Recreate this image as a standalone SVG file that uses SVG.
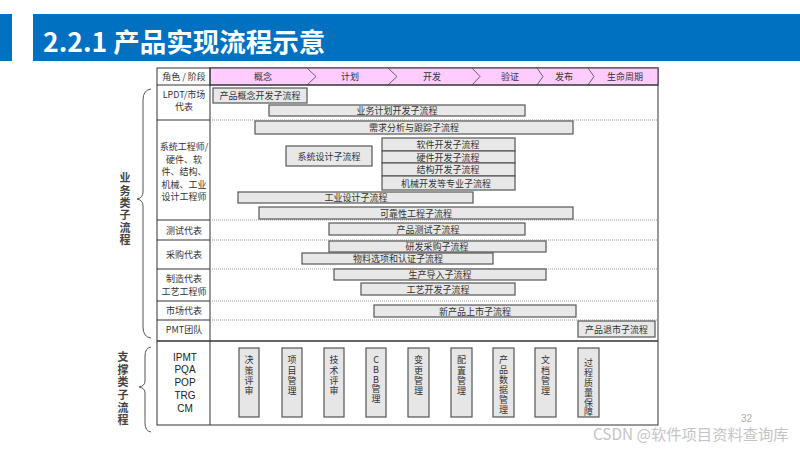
<svg xmlns="http://www.w3.org/2000/svg" width="800" height="450" viewBox="0 0 800 450">
<style>
.t{font-family:"Noto Sans CJK SC","Liberation Sans",sans-serif;font-size:9px;fill:#333;text-anchor:middle}
.v{font-family:"Noto Sans CJK SC","Liberation Sans",sans-serif;font-size:9px;fill:#333;writing-mode:vertical-rl;text-orientation:upright}
.bar{fill:#e8e8e8;stroke:#555;stroke-width:1.2}
.vb{fill:#e6e6e6;stroke:#555;stroke-width:1.2}
.dot{stroke:#999;stroke-width:1;stroke-dasharray:1 1}
.sol{stroke:#333;stroke-width:1}
.chev{fill:none;stroke:#555;stroke-width:0.9}
.brace{fill:none;stroke:#555;stroke-width:1}
.side{font-family:"Noto Sans CJK SC","Liberation Sans",sans-serif;font-size:11px;fill:#444;font-weight:bold;writing-mode:vertical-rl;text-orientation:upright}
.sup{font-family:"Liberation Sans","Noto Sans CJK SC",sans-serif;font-size:10px;fill:#222;text-anchor:middle}
</style>
<rect width="800" height="450" fill="#fff"/>
<g id="header">
<rect x="0" y="14" width="12" height="47" fill="#0070c0"/>
<rect x="33" y="14" width="767" height="47" fill="#0070c0"/>
<text x="43" y="52" font-family="'Noto Sans CJK SC','Liberation Sans',sans-serif" font-size="26.5" font-weight="bold" fill="#fff">2.2.1 产品实现流程示意</text>
</g>
<g id="table">
<rect x="157" y="68" width="501" height="357" fill="#fff" stroke="#333" stroke-width="1"/>
<rect x="210" y="68" width="448" height="17" fill="#ffccff" stroke="#333" stroke-width="1"/>
<path class="chev" d="M307 68 L316 76.5 L307 85 M388 68 L397 76.5 L388 85 M472 68 L480 76.5 L472 85 M537 68 L543 76.5 L537 85 M588 68 L594 76.5 L588 85"/>
<line class="sol" x1="157" y1="85" x2="658" y2="85"/>
<line class="sol" x1="210" y1="68" x2="210" y2="425"/>
<g>
<line class="sol" x1="157" y1="120" x2="210" y2="120"/>
<line class="sol" x1="157" y1="220" x2="210" y2="220"/>
<line class="sol" x1="157" y1="240" x2="210" y2="240"/>
<line class="sol" x1="157" y1="269" x2="210" y2="269"/>
<line class="sol" x1="157" y1="301" x2="210" y2="301"/>
<line class="sol" x1="157" y1="320" x2="210" y2="320"/>
<line class="dot" x1="210" y1="120" x2="658" y2="120"/>
<line class="dot" x1="210" y1="220" x2="658" y2="220"/>
<line class="dot" x1="210" y1="240" x2="658" y2="240"/>
<line class="dot" x1="210" y1="269" x2="658" y2="269"/>
<line class="dot" x1="210" y1="301" x2="658" y2="301"/>
<line class="dot" x1="210" y1="320" x2="658" y2="320"/>
<line x1="157" y1="341" x2="658" y2="341" stroke="#333" stroke-width="1.3"/>
</g>
<text class="t" x="263" y="80">概念</text>
<text class="t" x="350" y="80">计划</text>
<text class="t" x="432" y="80">开发</text>
<text class="t" x="510" y="80">验证</text>
<text class="t" x="564" y="80">发布</text>
<text class="t" x="625" y="80">生命周期</text>
<text class="t" x="184" y="80">角色 / 阶段</text>
<text class="t" x="184" y="97.5">LPDT/市场</text>
<text class="t" x="184" y="110">代表</text>
<text class="t" x="184" y="150">系统工程师/</text>
<text class="t" x="184" y="162.5">硬件、软</text>
<text class="t" x="184" y="175">件、结构、</text>
<text class="t" x="184" y="187.5">机械、工业</text>
<text class="t" x="184" y="200">设计工程师</text>
<text class="t" x="184" y="234">测试代表</text>
<text class="t" x="184" y="258">采购代表</text>
<text class="t" x="184" y="281.5">制造代表</text>
<text class="t" x="184" y="295">工艺工程师</text>
<text class="t" x="184" y="314">市场代表</text>
<text class="t" x="184" y="333">PMT团队</text>
<text class="sup" x="185" y="361">IPMT</text>
<text class="sup" x="185" y="373">PQA</text>
<text class="sup" x="185" y="386">POP</text>
<text class="sup" x="185" y="399">TRG</text>
<text class="sup" x="185" y="412">CM</text>
</g>
<g id="side-labels">
<path class="brace" d="M151 89 Q143 90 143 100 L143 192 Q143 198 137 199 Q143 200 143 206 L143 327 Q143 337 151 338"/>
<text class="side" x="125" y="172.5" letter-spacing="1.4">业务类子流程</text>
<path class="brace" d="M151 347 Q145 348 145 356 L145 381 Q145 386 139 387 Q145 388 145 393 L145 423 Q145 431 151 432"/>
<text class="side" x="123" y="351.5" letter-spacing="1.6">支撑类子流程</text>
</g>
<g id="n-concept"><rect class="bar" x="213" y="88" width="94" height="15"/><text class="t" x="260" y="99">产品概念开发子流程</text></g>
<g id="n-bizplan"><rect class="bar" x="269" y="105" width="256" height="11"/><text class="t" x="397" y="114">业务计划开发子流程</text></g>
<g id="n-req"><rect class="bar" x="255" y="121" width="318" height="13"/><text class="t" x="414" y="131">需求分析与跟踪子流程</text></g>
<g id="n-sysdesign"><rect class="bar" x="286" y="146" width="86" height="20"/><text class="t" x="329" y="159.5">系统设计子流程</text></g>
<g id="n-sw"><rect class="bar" x="382" y="138" width="133" height="13"/><text class="t" x="448" y="148">软件开发子流程</text></g>
<g id="n-hw"><rect class="bar" x="382" y="151" width="133" height="12"/><text class="t" x="448" y="160.5">硬件开发子流程</text></g>
<g id="n-struct"><rect class="bar" x="382" y="163" width="133" height="13"/><text class="t" x="448" y="173">结构开发子流程</text></g>
<g id="n-mech"><rect class="bar" x="382" y="176" width="133" height="14"/><text class="t" x="446" y="186.5">机械开发等专业子流程</text></g>
<g id="n-industrial"><rect class="bar" x="238" y="192" width="235" height="11"/><text class="t" x="356" y="201">工业设计子流程</text></g>
<g id="n-reliab"><rect class="bar" x="259" y="207" width="314" height="12"/><text class="t" x="416" y="216.5">可靠性工程子流程</text></g>
<g id="n-test"><rect class="bar" x="329" y="223" width="196" height="12"/><text class="t" x="428" y="232.5">产品测试子流程</text></g>
<g id="n-purchase"><rect class="bar" x="329" y="241" width="217" height="11"/><text class="t" x="437" y="250">研发采购子流程</text></g>
<g id="n-material"><rect class="bar" x="302" y="253" width="191" height="11"/><text class="t" x="398" y="262">物料选项和认证子流程</text></g>
<g id="n-production"><rect class="bar" x="334" y="269" width="212" height="11"/><text class="t" x="440" y="278">生产导入子流程</text></g>
<g id="n-process"><rect class="bar" x="361" y="283" width="154" height="12"/><text class="t" x="438" y="292.5">工艺开发子流程</text></g>
<g id="n-launch"><rect class="bar" x="374" y="305" width="202" height="12"/><text class="t" x="475" y="314.5">新产品上市子流程</text></g>
<g id="n-retire"><rect class="bar" x="578" y="321" width="77" height="16"/><text class="t" x="616.5" y="332.5">产品退市子流程</text></g>
<g id="support">
<g id="s1"><rect class="vb" x="239" y="348" width="20" height="69"/><text class="v" x="249" y="355.5" letter-spacing="1.3">决策评审</text></g>
<g id="s2"><rect class="vb" x="282" y="348" width="20" height="69"/><text class="v" x="292" y="355.5" letter-spacing="1.3">项目管理</text></g>
<g id="s3"><rect class="vb" x="324" y="348" width="20" height="69"/><text class="v" x="334" y="355.5" letter-spacing="1.3">技术评审</text></g>
<g id="s4"><rect class="vb" x="366" y="348" width="20" height="69"/><text class="v" x="376" y="355.5" letter-spacing="0.6">CBB管理</text></g>
<g id="s5"><rect class="vb" x="408" y="348" width="21" height="69"/><text class="v" x="418.5" y="355.5" letter-spacing="1.3">变更管理</text></g>
<g id="s6"><rect class="vb" x="451" y="348" width="21" height="69"/><text class="v" x="461.5" y="355.5" letter-spacing="1.3">配置管理</text></g>
<g id="s7"><rect class="vb" x="493" y="348" width="21" height="69"/><text class="v" x="503.5" y="355.5" letter-spacing="1">产品数据管理</text></g>
<g id="s8"><rect class="vb" x="535" y="348" width="21" height="69"/><text class="v" x="545.5" y="355.5" letter-spacing="1.3">文档管理</text></g>
<g id="s9"><rect class="vb" x="578" y="348" width="21" height="69"/><text class="v" x="588.5" y="358.5" letter-spacing="0.8">过程质量保障</text></g>
</g>
<g id="connectors"></g>
<text x="741" y="422" font-family="'Liberation Sans',sans-serif" font-size="10" fill="#aaa">32</text>
<text x="593" y="440" font-family="'Noto Sans CJK SC','Liberation Sans',sans-serif" font-size="15.3" fill="#c4c4c4">CSDN @软件项目资料查询库</text>
</svg>
